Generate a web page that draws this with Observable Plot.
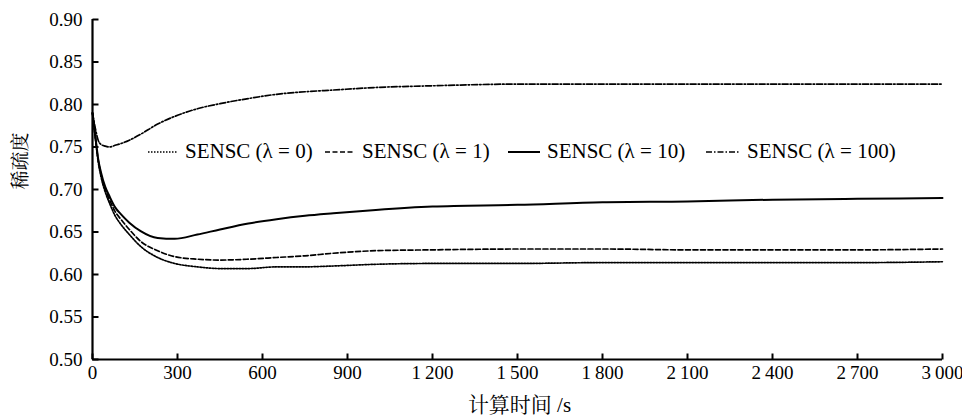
<!DOCTYPE html>
<html>
<head>
<meta charset="utf-8">
<script src="https://cdn.jsdelivr.net/npm/d3@7"></script>
<script src="https://cdn.jsdelivr.net/npm/@observablehq/plot@0.6"></script>
<style>
  body { margin: 0; background: #fff; }
  #wrap { position: relative; width: 962px; height: 417px; }
  #wrap svg text, #wrap svg { font-family: "Liberation Serif", "Times New Roman", "DejaVu Serif", "Noto Serif CJK SC", "Noto Sans CJK SC", serif !important; }
  .leg { position: absolute; top: 139px; display: flex; align-items: center; font-size: 21px; color: #000; white-space: nowrap; font-family: "Liberation Serif", "Times New Roman", "DejaVu Serif", serif !important; }
  .leg svg { margin-right: 7px; }
</style>
</head>
<body>
<div id="wrap"></div>
<script>
// ---- data ----
const time = [0, 10, 20, 30, 45, 60, 80, 100, 130, 170, 230, 290, 370, 450, 550, 650, 750, 850, 1000, 1200, 1500, 1800, 2100, 2400, 2700, 3000];
const lambda0 = [0.790, 0.760, 0.733, 0.715, 0.697, 0.684, 0.669, 0.659, 0.647, 0.633, 0.620, 0.613, 0.609, 0.607, 0.607, 0.609, 0.609, 0.610, 0.612, 0.613, 0.613, 0.614, 0.614, 0.614, 0.614, 0.615];
const lambda1 = [0.790, 0.762, 0.735, 0.718, 0.700, 0.688, 0.674, 0.665, 0.653, 0.639, 0.628, 0.621, 0.618, 0.617, 0.618, 0.620, 0.622, 0.625, 0.628, 0.629, 0.630, 0.630, 0.629, 0.629, 0.629, 0.630];
const lambda10 = [0.790, 0.763, 0.736, 0.720, 0.703, 0.692, 0.679, 0.671, 0.661, 0.651, 0.643, 0.642, 0.647, 0.653, 0.660, 0.665, 0.669, 0.672, 0.676, 0.680, 0.682, 0.685, 0.686, 0.688, 0.689, 0.690];
const lambda100 = [0.790, 0.772, 0.758, 0.753, 0.751, 0.750, 0.752, 0.754, 0.758, 0.765, 0.777, 0.786, 0.795, 0.801, 0.807, 0.812, 0.815, 0.817, 0.820, 0.822, 0.824, 0.824, 0.824, 0.824, 0.824, 0.824];
const seriesNames = ["SENSC (λ = 0)", "SENSC (λ = 1)", "SENSC (λ = 10)", "SENSC (λ = 100)"];
const xTicks = [0, 300, 600, 900, 1200, 1500, 1800, 2100, 2400, 2700, 3000];
const yTicks = [0.50, 0.55, 0.60, 0.65, 0.70, 0.75, 0.80, 0.85, 0.90];
const xDomain = [0, 3000];
const yDomain = [0.5, 0.9];
const xLabel = "计算时间 /s";
const yLabel = "稀疏度";

// ---- layout / styles ----
const W = 962, H = 417, mL = 92, mR = 20, mT = 19, mB = 58, TICK = 6;
const plotW = W - mL - mR, plotH = H - mT - mB;
const xTickLen = (xDomain[1] - xDomain[0]) * TICK / plotW;
const yTickLen = (yDomain[1] - yDomain[0]) * TICK / plotH;
const styles = [
  {dash: "1.5,1.5", width: 1.7},
  {dash: "5,2.5", width: 1.7},
  {dash: null, width: 2},
  {dash: "6,2,1.5,2", width: 1.7}
];
const allValues = [lambda0, lambda1, lambda10, lambda100];
const lines = allValues.map((vals, i) => {
  const data = time.map((t, j) => ({t, v: vals[j]}));
  return Plot.line(data, {x: "t", y: "v", stroke: "#000", strokeWidth: styles[i].width,
    strokeDasharray: styles[i].dash || undefined, curve: "monotone-x"});
});
const xTickData = xTicks.map(t => ({x: t, y1: yDomain[0], y2: yDomain[0] + yTickLen}));
const yTickData = yTicks.map(v => ({y: v, x1: xDomain[0], x2: xDomain[0] + xTickLen}));

const fmtX = d => d >= 1000 ? d3.format(",")(d).replace(",", "\u2009") : String(d);

const chart = Plot.plot({
  width: W,
  height: H,
  marginLeft: mL,
  marginRight: mR,
  marginTop: mT,
  marginBottom: mB,
  style: {fontSize: "19px", color: "#000", background: "#fff"},
  x: {domain: xDomain},
  y: {domain: yDomain},
  marks: [
    Plot.axisX(xTicks, {tickSize: 0, tickPadding: 6, tickFormat: fmtX, label: null, fontSize: 19}),
    Plot.axisY(yTicks, {tickSize: 0, tickPadding: 10, tickFormat: d3.format(".2f"), label: null, fontSize: 19}),
    Plot.text([xLabel], {frameAnchor: "bottom", dy: 46, dx: 2, fontSize: 21, lineAnchor: "middle"}),
    Plot.text([yLabel], {frameAnchor: "left", dx: -72, rotate: -90, fontSize: 19}),
    Plot.ruleX([xDomain[0]], {strokeWidth: 2.2}),
    Plot.ruleY([yDomain[0]], {strokeWidth: 2.2}),
    // inward tick marks
    Plot.link(xTickData, {x1: "x", x2: "x", y1: "y1", y2: "y2", stroke: "#000", strokeWidth: 2}),
    Plot.link(yTickData, {y1: "y", y2: "y", x1: "x1", x2: "x2", stroke: "#000", strokeWidth: 2}),
    ...lines
  ]
});
const wrap = document.getElementById("wrap");
wrap.appendChild(chart);

// ---- legend (HTML, overlaid) ----
const legendLeft = [148, 325, 508, 706];
const swatchW = [30, 30, 32, 34];
seriesNames.forEach((name, i) => {
  const div = document.createElement("div");
  div.className = "leg";
  div.style.left = legendLeft[i] + "px";
  const w = swatchW[i];
  div.innerHTML = `<svg width="${w}" height="6"><line x1="0" x2="${w}" y1="3" y2="3" stroke="#000" stroke-width="${styles[i].width}" ${styles[i].dash ? `stroke-dasharray="${styles[i].dash}"` : ""}/></svg><span>${name}</span>`;
  wrap.appendChild(div);
});
</script>
</body>
</html>
